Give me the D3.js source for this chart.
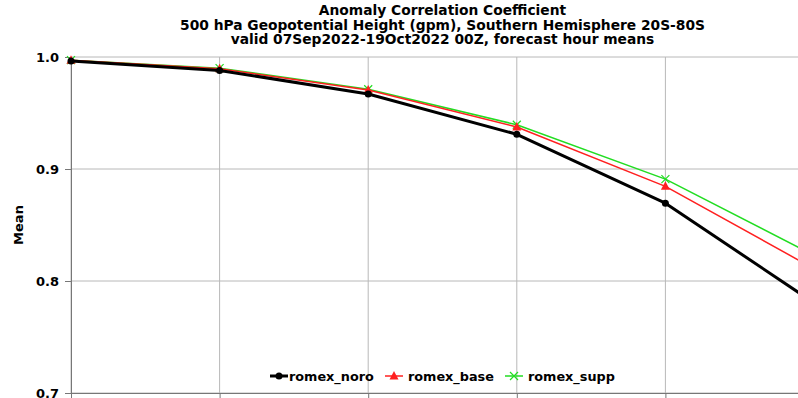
<!DOCTYPE html>
<html>
<head>
<meta charset="utf-8">
<script src="https://cdn.jsdelivr.net/npm/d3@7"></script>
<style>
  body { margin: 0; background: #fff; }
  svg { display: block; font-family: "DejaVu Sans", sans-serif; }
</style>
</head>
<body>
<script>
var hours = [24, 48, 72, 96, 120, 144]
var noro = [0.9965, 0.9880, 0.9670, 0.9310, 0.8695, 0.7805]
var base = [0.9970, 0.9895, 0.9705, 0.9375, 0.8845, 0.8110]
var supp = [0.9972, 0.9900, 0.9712, 0.9395, 0.8910, 0.8230]
var yTicks = [0.7, 0.8, 0.9, 1.0]
var titles = ['Anomaly Correlation Coefficient',
  '500 hPa Geopotential Height (gpm), Southern Hemisphere 20S-80S',
  'valid 07Sep2022-19Oct2022 00Z, forecast hour means']

var series = [
  {name: 'romex_noro', values: noro, color: '#000000', width: 3, marker: 'circle'},
  {name: 'romex_base', values: base, color: '#ff2020', width: 1.5, marker: 'triangle'},
  {name: 'romex_supp', values: supp, color: '#22dd22', width: 1.5, marker: 'cross'}
]

var margin = {top: 57, left: 71}
var plotW = 743
var plotH = 336

var svg = d3.select('body').append('svg')
  .attr('width', 798)
  .attr('height', 398)

var x = d3.scaleLinear().domain([24, 144]).range([0, plotW])
var y = d3.scaleLinear().domain([0.7, 1.0]).range([plotH, 0])

var cx = margin.left + plotW / 2
svg.selectAll('.title')
  .data(titles)
  .enter().append('text')
  .attr('x', cx)
  .attr('y', (d, i) => 15 + i * 14.5)
  .attr('text-anchor', 'middle')
  .style('font-size', '13.8px')
  .style('font-weight', 'bold')
  .text(d => d)

var g = svg.append('g')
  .attr('transform', `translate(${margin.left}, ${margin.top})`)

// grid
g.selectAll('.vgrid')
  .data(hours)
  .enter().append('line')
  .attr('x1', d => x(d)).attr('x2', d => x(d))
  .attr('y1', 0).attr('y2', plotH)
  .attr('stroke', '#b8b8b8').attr('stroke-width', 1)
g.selectAll('.hgrid')
  .data(yTicks)
  .enter().append('line')
  .attr('x1', 0).attr('x2', plotW)
  .attr('y1', d => y(d)).attr('y2', d => y(d))
  .attr('stroke', '#b8b8b8').attr('stroke-width', 1)

// axes
var yAxis = g.append('g')
  .call(d3.axisLeft(y).tickValues(yTicks).tickFormat(d3.format('.1f')).tickSize(6).tickPadding(6))
yAxis.select('.domain').attr('stroke', '#777')
yAxis.selectAll('.tick line').attr('stroke', '#777')
yAxis.selectAll('text')
  .style('font-family', '"DejaVu Sans", sans-serif')
  .style('font-size', '13px').style('font-weight', 'bold').attr('fill', '#000')

// x labels sit below the visible area, only the tick marks show
var xAxis = g.append('g')
  .attr('transform', `translate(0, ${plotH})`)
  .call(d3.axisBottom(x).tickValues(hours).tickSize(6).tickFormat(''))
xAxis.select('.domain').attr('stroke', '#777')
xAxis.selectAll('.tick line').attr('stroke', '#777')

svg.append('text')
  .attr('transform', `translate(23, ${margin.top + plotH / 2}) rotate(-90)`)
  .attr('text-anchor', 'middle')
  .style('font-size', '13px')
  .style('font-weight', 'bold')
  .text('Mean')

var line = d3.line()
  .x((d, i) => x(hours[i]))
  .y(d => y(d))

function drawMarker(sel, type, color) {
  if (type === 'circle') {
    sel.append('circle').attr('r', 3.5).attr('fill', color)
  } else if (type === 'triangle') {
    sel.append('path').attr('d', 'M0,-5L4.5,3.5L-4.5,3.5Z').attr('fill', color)
  } else {
    sel.append('path').attr('d', 'M-4,-4L4,4M-4,4L4,-4')
      .attr('stroke', color).attr('stroke-width', 1.2).attr('fill', 'none')
  }
}

// draw back to front so noro sits on top
series.slice().reverse().forEach(function (s) {
  g.append('path')
    .datum(s.values)
    .attr('d', line)
    .attr('fill', 'none')
    .attr('stroke', s.color)
    .attr('stroke-width', s.width)
    .attr('stroke-linejoin', 'round')
  g.selectAll(null)
    .data(s.values)
    .enter().append('g')
    .attr('transform', (d, i) => `translate(${x(hours[i])}, ${y(d)})`)
    .each(function () { drawMarker(d3.select(this), s.marker, s.color) })
})

// legend
var legendX = [270, 385, 505]
var legend = svg.selectAll('.legend')
  .data(series)
  .enter().append('g')
  .attr('transform', (d, i) => `translate(${legendX[i]}, 376)`)
legend.append('line')
  .attr('x1', 0).attr('x2', 18)
  .attr('stroke', d => d.color)
  .attr('stroke-width', d => d.width)
legend.each(function (d) {
  drawMarker(d3.select(this).append('g').attr('transform', 'translate(9,0)'), d.marker, d.color)
})
legend.append('text')
  .attr('x', d => d.marker === 'circle' ? 19 : 23)
  .attr('y', 4.5)
  .style('font-size', '12.8px')
  .style('font-weight', 'bold')
  .text(d => d.name)
</script>
</body>
</html>
